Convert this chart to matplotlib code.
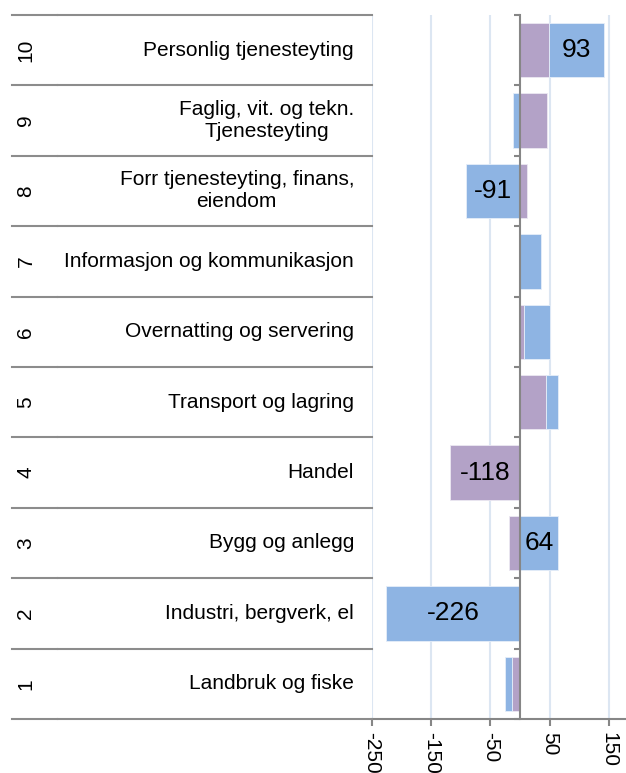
import matplotlib
matplotlib.use("Agg")
import matplotlib.pyplot as plt
import matplotlib.transforms as mtransforms
from matplotlib.lines import Line2D
import numpy as np

plt.rcParams['font.family'] = ['Liberation Sans', 'DejaVu Sans']

# ---- data ----
row_numbers = ["1", "2", "3", "4", "5", "6", "7", "8", "9", "10"]
categories = [
    "Landbruk og fiske",
    "Industri, bergverk, el",
    "Bygg og anlegg",
    "Handel",
    "Transport og lagring",
    "Overnatting og servering",
    "Informasjon og kommunikasjon",
    "Forr tjenesteyting, finans,\neiendom",
    "Faglig, vit. og tekn.\nTjenesteyting",
    "Personlig tjenesteyting",
]
purple_values = [-14, 0, -18, -118, 43, 6, 0, 12, 45, 49]
blue_values = [-12, -226, 64, 0, 21, 45, 36, -91, -12, 93]
x_ticks = [-250, -150, -50, 50, 150]
label_threshold = 60

# ---- figure ----
W, H = 626, 773
fig = plt.figure(figsize=(W / 100, H / 100), dpi=100)
ax_left, ax_right = 372 / W, 626 / W
ax_bottom, ax_top = 1 - 719 / H, 1 - 15 / H
ax = fig.add_axes([ax_left, ax_bottom, ax_right - ax_left, ax_top - ax_bottom])

purple_c = "#B3A2C7"
blue_c = "#8EB4E3"
gray = "#868686"

y = np.arange(len(categories))
purple = np.array(purple_values, dtype=float)
blue = np.array(blue_values, dtype=float)
blue_left = np.where(np.sign(blue) == np.sign(purple), purple, 0)

bh = 0.77
bp = ax.barh(y, purple, height=bh, color=purple_c, edgecolor="#ECE8F2", linewidth=0.6, zorder=2)
bb = ax.barh(y, blue, left=blue_left, height=bh, color=blue_c, edgecolor="#E6EEF9", linewidth=0.6, zorder=2)

ax.bar_label(bp, labels=[f"{v:g}" if abs(v) >= label_threshold else "" for v in purple],
             label_type="center", fontsize=19, color="black")
ax.bar_label(bb, labels=[f"{v:g}" if abs(v) >= label_threshold else "" for v in blue],
             label_type="center", fontsize=19, color="black")

ax.set_xlim(-250, 178.7)
ax.set_ylim(-0.5, len(categories) - 0.5)

ax.set_xticks(x_ticks)
ax.set_xticklabels([str(t) for t in x_ticks], rotation=-90, fontsize=15)
ax.tick_params(axis="x", direction="out", length=5, width=1.5, color=gray, pad=4)

ax.set_yticks(np.arange(-0.5, len(categories), 1.0))
ax.set_yticklabels([])
ax.tick_params(axis="y", direction="out", length=4, width=1.5, color=gray)

ax.spines["left"].set_position(("data", 0))
ax.spines["left"].set_color(gray)
ax.spines["left"].set_linewidth(1.5)
ax.spines["left"].set_zorder(3)
ax.spines["bottom"].set_color(gray)
ax.spines["bottom"].set_linewidth(1.5)
ax.spines["top"].set_visible(False)
ax.spines["right"].set_visible(False)

ax.grid(axis="x", color="#DCE6F2", linewidth=1.5)
ax.grid(axis="y", visible=False)
ax.set_axisbelow(True)

# ---- left table ----
trans = mtransforms.blended_transform_factory(fig.transFigure, ax.transData)
for b in np.arange(-0.5, len(categories), 1.0):
    fig.add_artist(Line2D([12 / W, 56.5 / W], [b, b], transform=trans, color="#8C8C8C", lw=1.5, clip_on=False))
    fig.add_artist(Line2D([57.5 / W, 372 / W], [b, b], transform=trans, color="#8C8C8C", lw=1.5, clip_on=False))

for yi, num, cat in zip(y, row_numbers, categories):
    fig.text(26 / W, yi, num, transform=trans, rotation=90, ha="center", va="center", fontsize=15)
    fig.text(354 / W, yi, cat, transform=trans, ha="right", va="center", fontsize=15,
             multialignment="center", linespacing=1.2)

fig.savefig("out.png", dpi=100)
